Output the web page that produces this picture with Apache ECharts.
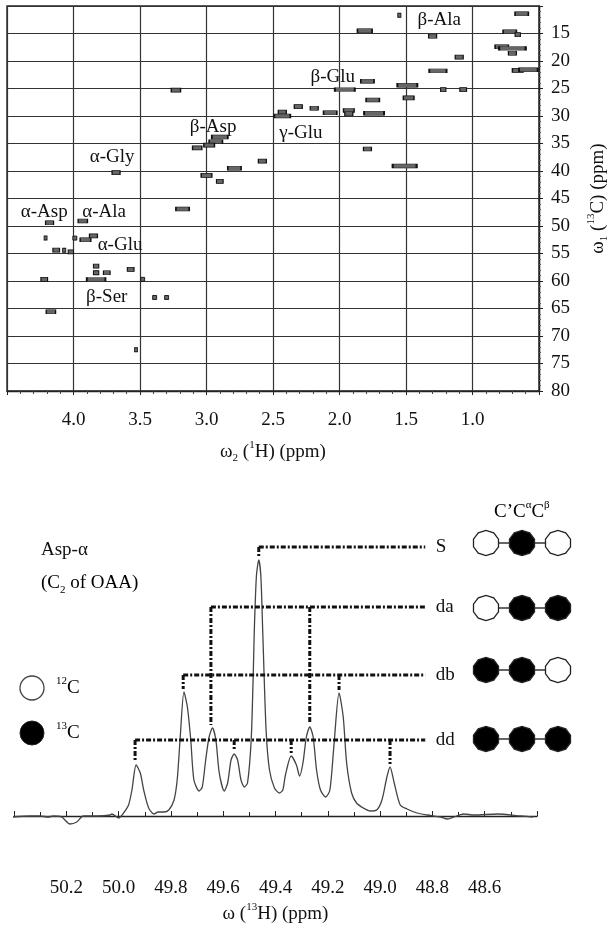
<!DOCTYPE html>
<html>
<head>
<meta charset="utf-8">
<script src="https://cdn.jsdelivr.net/npm/echarts@6/dist/echarts.min.js"></script>
<style>
  html, body { margin: 0; padding: 0; background: #fff; }
  #chart { width: 609px; height: 940px; }
</style>
</head>
<body>
<div id="chart"></div>
<script>
// cross peaks of the 2D map: 1H shift, 13C shift, apparent 1H extent (ppm)
const peakH = [3.23, 2.43, 2.31, 2.43, 2.90, 2.93, 2.98, 3.07, 2.58, 2.79, 3.00, 2.90, 3.68,
  1.55, 1.81, 1.30, 0.63, 0.72, 0.66, 0.78, 0.70, 0.70, 1.10, 0.66, 0.58, 1.26, 1.79, 1.49,
  1.96, 1.22, 1.07, 1.48, 1.75, 1.74, 1.93, 1.93, 2.07, 2.19, 1.79, 1.51,
  4.18, 3.93, 3.18, 4.21, 4.13, 4.07, 4.02, 3.99, 3.91, 3.85, 3.83, 3.83, 3.75, 3.57, 3.83,
  4.22, 3.48, 3.39, 3.30, 4.17, 3.53];
const peakC = [25.3, 29.3, 28.3, 30.0, 33.8, 34.7, 35.3, 35.8, 38.2, 39.5, 40.8, 41.9, 40.3,
  11.7, 14.5, 15.5, 11.4, 14.7, 15.2, 17.4, 17.7, 18.6, 19.3, 21.7, 21.6, 21.8, 23.7, 24.4,
  25.2, 25.2, 25.2, 26.7, 27.1, 29.5, 29.0, 29.6, 29.4, 28.6, 36.0, 39.1,
  49.4, 49.1, 46.9, 52.2, 54.4, 54.4, 54.7, 52.2, 52.5, 51.8, 57.3, 58.5, 58.5, 57.9, 59.7,
  59.7, 59.7, 63.0, 63.0, 65.6, 72.5];
const peakW = [0.035, 0.03, 0.03, 0.06, 0.06, 0.05, 0.04, 0.035, 0.03, 0.05, 0.04, 0.025, 0.03,
  0.012, 0.055, 0.03, 0.05, 0.05, 0.02, 0.05, 0.10, 0.03, 0.03, 0.04, 0.07, 0.065, 0.05, 0.075,
  0.075, 0.02, 0.025, 0.04, 0.05, 0.075, 0.04, 0.03, 0.05, 0.03, 0.03, 0.09,
  0.03, 0.035, 0.05, 0.01, 0.025, 0.012, 0.02, 0.015, 0.04, 0.03, 0.02, 0.02, 0.025, 0.025, 0.07,
  0.025, 0.015, 0.015, 0.015, 0.035, 0.008];

const assignNames = ['β-Ala', 'β-Glu', 'γ-Glu', 'β-Asp', 'α-Gly', 'α-Asp', 'α-Ala', 'α-Glu', 'β-Ser'];
const assignH = [1.25, 2.05, 2.29, 2.95, 3.71, 4.22, 3.77, 3.65, 3.75];
const assignC = [12.6, 22.9, 33.1, 32.0, 37.5, 47.4, 47.4, 53.5, 62.9];

// 1D trace of Asp C-alpha
const specPpm = [50.404, 50.340, 50.301, 50.269, 50.250, 50.218, 50.186, 50.160, 50.135, 50.077,
  50.032, 50.026, 50.000, 49.981, 49.962, 49.949, 49.933, 49.917, 49.904, 49.885, 49.865, 49.849,
  49.827, 49.808, 49.788, 49.776, 49.765, 49.750, 49.737, 49.724, 49.712, 49.692, 49.680, 49.667,
  49.654, 49.641, 49.628, 49.615, 49.596, 49.583, 49.570, 49.558, 49.545, 49.532, 49.519, 49.507,
  49.493, 49.485, 49.481, 49.473, 49.464, 49.456, 49.449, 49.436, 49.423, 49.404, 49.385, 49.372,
  49.362, 49.340, 49.320, 49.308, 49.295, 49.282, 49.269, 49.256, 49.243, 49.228, 49.208, 49.192,
  49.177, 49.157, 49.141, 49.128, 49.109, 49.090, 49.064, 49.038, 49.013, 48.993, 48.974, 48.962,
  48.946, 48.923, 48.897, 48.859, 48.820, 48.769, 48.743, 48.680, 48.641, 48.551, 48.462, 48.416];
const specInt = [-1, 0, 0, -1, 0, -1, -8, -6, 0, 0,
  1, 2, -2, 3, 11, 26, 51, 43, 26, 8, 2, 4,
  4, 6, 16, 36, 76, 124, 109, 76, 36, 25, 29, 56,
  79, 88, 76, 43, 25, 33, 56, 62, 56, 36, 29, 33,
  76, 143, 186, 240, 256, 240, 186, 86, 46, 28, 23, 26,
  41, 60, 51, 40, 53, 79, 89, 79, 46, 26, 19, 26,
  69, 123, 99, 53, 23, 13, 8, 5, 6, 16, 39, 49,
  33, 11, 7, 3, 1, -1, -3, 2, 1, 2, 0, -1];

const multNames = ['S', 'da', 'db', 'dd'];
const multLevel = [269, 209, 141, 76];
const multPeaks = [[49.464], [49.647, 49.269], [49.753, 49.157], [49.937, 49.558, 49.340, 48.962]];
const multEnd = 48.827;

// labelling pattern C', C-alpha, C-beta (1 = 13C)
const isoRows = [[0, 1, 0], [0, 1, 1], [1, 1, 0], [1, 1, 1]];
const isoRowY = [273, 208, 146, 77];

const serif = 'Liberation Serif';
const ink = '#111';
const txt = { fontFamily: serif, fontSize: 19, color: ink };
const richSS = {
  t: { fontFamily: serif, fontSize: 19, color: ink, lineHeight: 24 },
  sup: { fontFamily: serif, fontSize: 11, color: ink, lineHeight: 12, verticalAlign: 'top' },
  sub: { fontFamily: serif, fontSize: 11, color: ink, lineHeight: 12, verticalAlign: 'bottom' }
};

function topAt(p) {
  let best = -Infinity;
  specPpm.forEach((x, i) => { if (Math.abs(x - p) < 0.012) best = Math.max(best, specInt[i]); });
  return best;
}

// ten-sided marker like the drawing
let deca = 'path://';
for (let k = 0; k < 10; k++) {
  const a = (k * 36 + 18) * Math.PI / 180;
  deca += (k ? 'L' : 'M') + (50 + 50 * Math.cos(a)).toFixed(2) + ',' + (50 + 50 * Math.sin(a)).toFixed(2);
}
deca += 'Z';

const dotted = { color: '#111', width: 3, type: [5, 2, 2, 2] };

const series = [];

series.push({
  type: 'scatter', xAxisIndex: 0, yAxisIndex: 0,
  data: peakH.map((h, i) => [h, peakC[i], peakW[i]]),
  symbol: 'rect',
  symbolSize: v => [Math.max(3, v[2] * 266), 4],
  itemStyle: { color: '#666', borderColor: '#111', borderWidth: 0.9, opacity: 1 },
  z: 3
});
series.push({
  type: 'scatter', xAxisIndex: 0, yAxisIndex: 0,
  data: assignNames.map((n, i) => ({ name: n, value: [assignH[i], assignC[i]] })),
  symbolSize: 1,
  itemStyle: { color: '#fff', opacity: 1 },
  label: { show: true, position: 'inside', formatter: p => p.name, ...txt, textBorderWidth: 0 },
  z: 5
});

series.push({
  type: 'line', xAxisIndex: 1, yAxisIndex: 1,
  data: specPpm.map((x, i) => [x, specInt[i]]),
  showSymbol: false, smooth: 0.25,
  lineStyle: { color: '#444', width: 1.3 },
  z: 2
});

multNames.forEach((n, r) => {
  const y = multLevel[r];
  series.push({
    type: 'line', xAxisIndex: 1, yAxisIndex: 1,
    data: [[multPeaks[r][0], y], [multEnd, y]],
    showSymbol: false, lineStyle: dotted, z: 3
  });
  multPeaks[r].forEach(p => {
    series.push({
      type: 'line', xAxisIndex: 1, yAxisIndex: 1,
      data: [[p, y], [p, topAt(p) + 3]],
      showSymbol: false, lineStyle: dotted, z: 3
    });
  });
});
series.push({
  type: 'scatter', xAxisIndex: 1, yAxisIndex: 1,
  data: multNames.map((n, r) => ({ name: n, value: [multEnd, multLevel[r]] })),
  symbolSize: 1, itemStyle: { color: '#fff', opacity: 1 },
  label: { show: true, position: 'right', distance: 10, formatter: p => p.name, ...txt, textBorderWidth: 0 },
  z: 4
});

isoRows.forEach((row, r) => {
  series.push({
    type: 'line', xAxisIndex: 2, yAxisIndex: 2,
    data: [[0, isoRowY[r]], [2, isoRowY[r]]],
    showSymbol: false, lineStyle: { color: '#333', width: 1.3 }, z: 1
  });
});
series.push({
  type: 'scatter', xAxisIndex: 2, yAxisIndex: 2,
  data: isoRows.flatMap((row, r) => row.map((c, k) => [k, isoRowY[r], c])),
  symbol: deca, symbolSize: 25,
  itemStyle: { color: p => (p.data[2] ? '#000' : '#fff'), borderColor: '#222', borderWidth: 1.3, opacity: 1 },
  z: 4
});

const option = {
  animation: false,
  backgroundColor: '#fff',
  grid: [
    { left: 7, top: 6, width: 532, height: 385, show: true, borderColor: '#222', borderWidth: 1.4, outerBoundsMode: 'none' },
    { left: 14, top: 520, width: 523, height: 346, outerBoundsMode: 'none' },
    { left: 468, top: 520, width: 108, height: 346, outerBoundsMode: 'none' }
  ],
  xAxis: [
    {
      gridIndex: 0, type: 'value', min: 0.5, max: 4.5, interval: 0.5, inverse: true,
      name: '{t|ω}{sub|2}{t| (}{sup|1}{t|H) (ppm)}',
      nameLocation: 'middle', nameGap: 49,
      nameTextStyle: { rich: richSS },
      axisLine: { lineStyle: { color: '#222', width: 1.4 } },
      axisTick: { length: 4, lineStyle: { color: '#222' } },
      minorTick: { show: true, splitNumber: 5, length: 3, lineStyle: { color: '#444' } },
      splitLine: { show: true, lineStyle: { color: '#333', width: 1.2 } },
      axisLabel: {
        ...txt, margin: 20,
        formatter: v => (v > 0.6 && v < 4.4 ? v.toFixed(1) : '')
      }
    },
    {
      gridIndex: 1, type: 'value', min: 48.4, max: 50.4, interval: 0.2, inverse: true,
      name: '{t|ω (}{sup|13}{t|H) (ppm)}',
      nameLocation: 'middle', nameGap: 36,
      nameTextStyle: { rich: richSS },
      axisLine: { lineStyle: { color: '#222', width: 1.4 } },
      axisTick: { inside: true, length: 5, lineStyle: { color: '#222' } },
      minorTick: { show: true, splitNumber: 2, length: 4, lineStyle: { color: '#222' } },
      splitLine: { show: false },
      axisLabel: {
        ...txt, margin: 13,
        formatter: v => (v > 48.45 && v < 50.35 ? v.toFixed(1) : '')
      }
    },
    { gridIndex: 2, type: 'value', min: -0.5, max: 2.5, show: false }
  ],
  yAxis: [
    {
      gridIndex: 0, type: 'value', min: 10, max: 80, interval: 5, inverse: true, position: 'right',
      name: '{t|ω}{sub|1}{t| (}{sup|13}{t|C) (ppm)}',
      nameLocation: 'middle', nameGap: 47, nameRotate: 90,
      nameTextStyle: { rich: richSS },
      axisLine: { lineStyle: { color: '#222', width: 1.4 } },
      axisTick: { length: 4, lineStyle: { color: '#222' } },
      minorTick: { show: true, splitNumber: 5, length: 2, lineStyle: { color: '#555' } },
      splitLine: { show: true, lineStyle: { color: '#333', width: 1.2 } },
      axisLabel: { ...txt, margin: 12, formatter: v => (v > 10 ? String(v) : '') }
    },
    { gridIndex: 1, type: 'value', min: -50, max: 296, show: false },
    { gridIndex: 2, type: 'value', min: -50, max: 296, show: false }
  ],
  graphic: [
    { type: 'text', left: 41, top: 541, style: { text: 'Asp-α', font: '19px "Liberation Serif"', fill: ink } },
    { type: 'text', left: 41, top: 574, style: { text: '{t|(C}{sub|2}{t| of OAA)}', rich: richSS } },
    { type: 'text', left: 494, top: 500, style: { text: '{t|C’C}{sup|α}{t|C}{sup|β}', rich: richSS } },
    { type: 'circle', shape: { cx: 32, cy: 688, r: 12 }, style: { fill: '#fff', stroke: '#444', lineWidth: 1.3 } },
    { type: 'circle', shape: { cx: 32, cy: 733, r: 12 }, style: { fill: '#000', stroke: '#222', lineWidth: 1 } },
    { type: 'text', left: 56, top: 676, style: { text: '{sup|12}{t|C}', rich: richSS } },
    { type: 'text', left: 56, top: 721, style: { text: '{sup|13}{t|C}', rich: richSS } }
  ],
  series
};

const chart = echarts.init(document.getElementById('chart'));
chart.setOption(option);
</script>
</body>
</html>
